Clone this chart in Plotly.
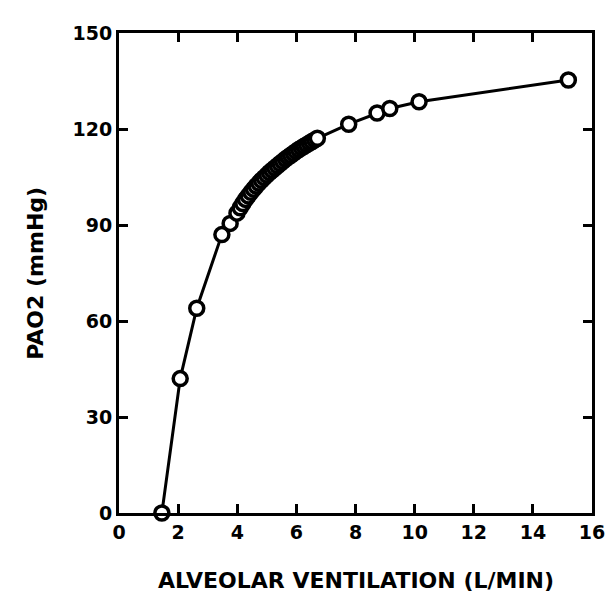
import plotly.graph_objects as go

# Alveolar ventilation (L/min) vs PAO2 (mmHg)
ventilation = [1.45, 2.07, 2.63, 3.48, 3.76, 3.99,
               4.10, 4.19, 4.28, 4.37, 4.46, 4.55, 4.64, 4.73, 4.82, 4.91,
               5.00, 5.09, 5.18, 5.27, 5.36, 5.45, 5.54, 5.63, 5.72, 5.81,
               5.90, 5.99, 6.08, 6.17, 6.26, 6.35, 6.44, 6.53, 6.62, 6.71,
               7.77, 8.73, 9.16, 10.15, 15.2]
pao2 = [0, 42, 64, 87, 90.5, 93.7,
        95.4, 96.7, 98.0, 99.1, 100.2, 101.2, 102.2, 103.1, 104.0, 104.8,
        105.6, 106.4, 107.1, 107.8, 108.5, 109.2, 109.9, 110.6, 111.2, 111.8,
        112.4, 113.0, 113.6, 114.1, 114.6, 115.1, 115.6, 116.1, 116.6, 117.1,
        121.5, 125, 126.4, 128.5, 135.3]

x_ticks = [0, 2, 4, 6, 8, 10, 12, 14, 16]
y_ticks = [0, 30, 60, 90, 120, 150]

x_title = "ALVEOLAR VENTILATION (L/MIN)"
y_title = "PAO2 (mmHg)"

fig = go.Figure()
fig.add_trace(go.Scatter(
    x=ventilation, y=pao2, mode="lines+markers",
    line=dict(color="black", width=3),
    marker=dict(symbol="circle", size=14, color="white",
                line=dict(color="black", width=3.5)),
    cliponaxis=False, showlegend=False,
))

tick_font = dict(family="DejaVu Sans", size=19, color="black")
title_font = dict(family="DejaVu Sans", size=22, color="black")
axis_common = dict(
    showgrid=False, zeroline=False, showline=True, linecolor="black", linewidth=3,
    mirror="ticks", ticks="inside", ticklen=9, tickwidth=2.5, tickcolor="black",
    tickfont=tick_font, automargin=False,
)
fig.update_layout(
    width=607, height=592, autosize=False,
    margin=dict(l=119, r=15, t=33, b=79),
    paper_bgcolor="white", plot_bgcolor="white",
    xaxis=dict(range=[0, 16], tickvals=x_ticks, ticktext=[f"<b>{v}</b>" for v in x_ticks],
               **axis_common),
    yaxis=dict(range=[0, 150], tickvals=y_ticks, ticktext=[f"<b>{v}</b>" for v in y_ticks],
               **axis_common),
    annotations=[
        dict(text=f"<b>{x_title}</b>", xref="paper", yref="paper", x=0.5, y=-0.14,
             xanchor="center", yanchor="middle", showarrow=False, font=title_font),
        dict(text=f"<b>{y_title}</b>", xref="paper", yref="paper", x=-0.178, y=0.5,
             xanchor="center", yanchor="middle", showarrow=False, font=title_font,
             textangle=-90),
    ],
)
fig.write_html("out.html")
